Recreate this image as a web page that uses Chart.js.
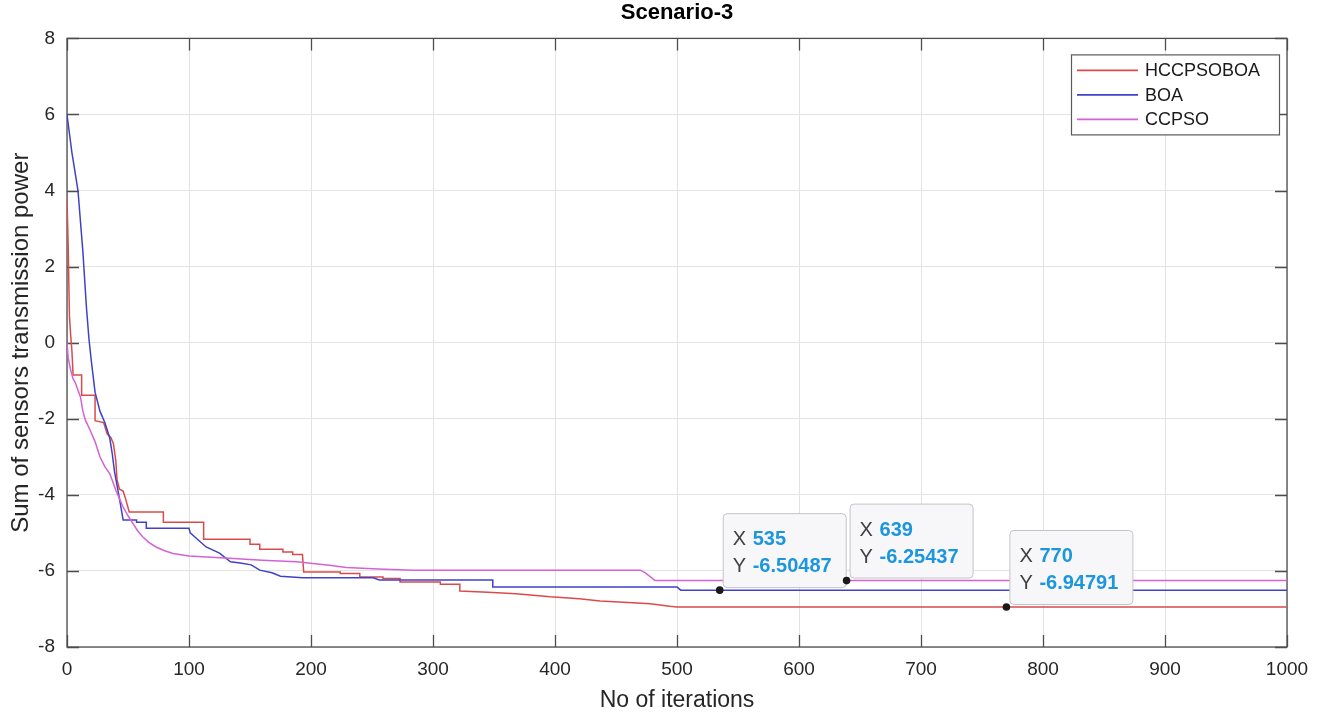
<!DOCTYPE html>
<html>
<head>
<meta charset="utf-8">
<script src="https://cdn.jsdelivr.net/npm/chart.js@4.4.0/dist/chart.umd.min.js"></script>
<style>
  body { margin: 0; background: #fff; }
</style>
</head>
<body>
<canvas id="myChart" width="1325" height="717"></canvas>
<script>
// Convergence curves as polyline vertices (iteration, best value); flat levels get both corner points
const hccIter = [0, 1, 2, 3, 4, 5, 12, 12, 23, 23, 30, 33, 36, 38, 40, 41, 43, 46, 48, 51, 79, 79, 112, 112, 150, 150, 158, 158, 177, 177, 185, 185, 193, 194, 224, 224, 240, 240, 259, 259, 273, 273, 306, 306, 322, 322, 345, 368, 396, 420, 437, 460, 478, 494, 500, 1000]
const hccPower = [3.8, 2.5, 0.7, 0.2, -0.2, -0.85, -0.85, -1.38, -1.38, -2.05, -2.1, -2.4, -2.5, -2.65, -3.1, -3.6, -3.85, -3.9, -4.1, -4.45, -4.45, -4.72, -4.72, -5.17, -5.17, -5.3, -5.3, -5.43, -5.43, -5.5, -5.5, -5.57, -5.57, -6.03, -6.03, -6.07, -6.07, -6.16, -6.16, -6.2, -6.2, -6.29, -6.29, -6.35, -6.35, -6.53, -6.56, -6.6, -6.68, -6.73, -6.79, -6.83, -6.86, -6.93, -6.94791, -6.94791]

const boaIter = [0, 2, 4, 6, 9, 11, 13, 16, 18, 20, 23, 27, 31, 35, 37, 39, 41, 43, 46, 57, 57, 65, 65, 100, 101, 106, 114, 125, 134, 142, 151, 158, 168, 175, 193, 251, 256, 349, 349, 500, 503, 1000]
const boaPower = [6.0, 5.5, 5.0, 4.6, 4.0, 3.2, 2.4, 0.9, 0.1, -0.5, -1.3, -1.8, -2.1, -2.5, -2.9, -3.4, -3.75, -4.1, -4.66, -4.66, -4.72, -4.72, -4.88, -4.88, -5.0, -5.14, -5.37, -5.53, -5.76, -5.79, -5.84, -5.98, -6.05, -6.14, -6.18, -6.18, -6.24, -6.24, -6.42, -6.42, -6.50487, -6.50487]

const ccpsoIter = [0, 1, 3, 5, 7, 9, 11, 13, 15, 19, 23, 27, 31, 35, 37, 40, 43, 46, 50, 54, 58, 62, 67, 73, 80, 87, 100, 122, 133, 160, 188, 215, 229, 255, 284, 470, 474, 478, 482, 1000]
const ccpsoPower = [0.0, -0.4, -0.72, -0.95, -1.06, -1.25, -1.42, -1.8, -2.03, -2.3, -2.6, -3.0, -3.26, -3.44, -3.61, -3.88, -4.1, -4.32, -4.55, -4.75, -4.95, -5.1, -5.25, -5.37, -5.47, -5.54, -5.61, -5.65, -5.67, -5.72, -5.76, -5.85, -5.91, -5.95, -5.98, -5.98, -6.05, -6.15, -6.25437, -6.25437]

const seriesNames = ['HCCPSOBOA', 'BOA', 'CCPSO']
const seriesColors = ['#d94b4b', '#4040c8', '#d462d4']

const xTicks = [0, 100, 200, 300, 400, 500, 600, 700, 800, 900, 1000]
const yTicks = [-8, -6, -4, -2, 0, 2, 4, 6, 8]

// data tips: which series and at which iteration
const tipSeries = [1, 2, 0]
const tipIters = [535, 639, 770]

const fontFamily = "'Liberation Sans', Arial, Helvetica, sans-serif"

function toPoints(xs, ys) {
    return xs.map(function (x, i) { return { x: x, y: ys[i] } })
}

// value of a series at a given iteration (tips sit on flat levels)
function valueAt(points, iter) {
    let v = points[0].y
    points.forEach(function (p) { if (p.x <= iter) v = p.y })
    return v
}

// box round the axes with inward tick marks on all four sides
const axesBox = {
    id: 'axesBox',
    beforeDatasetsDraw(chart) {
        const { ctx, chartArea: a, scales } = chart
        const len = 12
        ctx.save()
        ctx.strokeStyle = '#4d4d4d'
        ctx.lineWidth = 1.3
        ctx.beginPath()
        xTicks.forEach(function (t) {
            const px = Math.round(scales.x.getPixelForValue(t)) + 0.5
            ctx.moveTo(px, a.bottom); ctx.lineTo(px, a.bottom - len)
            ctx.moveTo(px, a.top); ctx.lineTo(px, a.top + len)
        })
        yTicks.forEach(function (t) {
            const py = Math.round(scales.y.getPixelForValue(t)) + 0.5
            ctx.moveTo(a.left, py); ctx.lineTo(a.left + len, py)
            ctx.moveTo(a.right, py); ctx.lineTo(a.right - len, py)
        })
        ctx.stroke()
        ctx.strokeRect(a.left, a.top, a.right - a.left, a.bottom - a.top)
        ctx.restore()
    }
}

// legend box in the upper right corner of the plot
const boxLegend = {
    id: 'boxLegend',
    afterDatasetsDraw(chart) {
        const { ctx, chartArea: a } = chart
        const w = 208, h = 80
        const left = a.right - w - 8
        const top = a.top + 16
        ctx.save()
        ctx.fillStyle = '#fff'
        ctx.fillRect(left, top, w, h)
        ctx.strokeStyle = '#5a5a5a'
        ctx.lineWidth = 1.2
        ctx.strokeRect(left + 0.5, top + 0.5, w, h)
        ctx.font = '18px ' + fontFamily
        ctx.textBaseline = 'middle'
        seriesNames.forEach(function (name, i) {
            const yy = top + 16 + i * 24.5
            ctx.strokeStyle = seriesColors[i]
            ctx.lineWidth = 1.6
            ctx.beginPath()
            ctx.moveTo(left + 6, yy)
            ctx.lineTo(left + 67, yy)
            ctx.stroke()
            ctx.fillStyle = '#1a1a1a'
            ctx.fillText(name, left + 74, yy + 1)
        })
        ctx.restore()
    }
}

// MATLAB-style data tips
const dataTips = {
    id: 'dataTips',
    afterDatasetsDraw(chart) {
        const { ctx, scales } = chart
        ctx.save()
        tipSeries.forEach(function (s, i) {
            const pts = chart.data.datasets[s].data
            const iter = tipIters[i]
            const val = valueAt(pts, iter)
            const px = scales.x.getPixelForValue(iter)
            const py = scales.y.getPixelForValue(val)

            const bw = 123, bh = 74
            const bx = px + 3, by = py - 3 - bh
            ctx.fillStyle = '#f7f7f9'
            ctx.strokeStyle = '#c4c4c8'
            ctx.lineWidth = 1
            ctx.beginPath()
            ctx.roundRect(bx + 0.5, by + 0.5, bw, bh, 4)
            ctx.fill()
            ctx.stroke()

            ctx.textBaseline = 'alphabetic'
            ctx.font = '20px ' + fontFamily
            ctx.fillStyle = '#404040'
            ctx.fillText('X', bx + 10, by + 32)
            ctx.fillText('Y', bx + 10, by + 59)
            ctx.font = 'bold 20px ' + fontFamily
            ctx.fillStyle = '#1c96dc'
            ctx.fillText(String(iter), bx + 30, by + 32)
            ctx.fillText(String(val), bx + 30, by + 59)

            ctx.fillStyle = '#1a1a1a'
            ctx.beginPath()
            ctx.arc(px, py, 3.8, 0, Math.PI * 2)
            ctx.fill()
        })
        ctx.restore()
    }
}

const myChart = document.getElementById('myChart')

const chart = new Chart(myChart, {
    type: 'line',
    data: {
        datasets: [
            {
                label: seriesNames[0],
                data: toPoints(hccIter, hccPower),
                borderColor: seriesColors[0],
                order: 3
            },
            {
                label: seriesNames[1],
                data: toPoints(boaIter, boaPower),
                borderColor: seriesColors[1],
                order: 2
            },
            {
                label: seriesNames[2],
                data: toPoints(ccpsoIter, ccpsoPower),
                borderColor: seriesColors[2],
                order: 1
            }
        ]
    },
    options: {
        responsive: false,
        animation: false,
        events: [],
        parsing: false,
        elements: {
            line: { borderWidth: 1.5, fill: false, tension: 0 },
            point: { radius: 0 }
        },
        layout: { padding: { left: 0, right: 38, top: 0, bottom: 0 } },
        plugins: {
            legend: { display: false },
            tooltip: { enabled: false },
            title: {
                display: true,
                fullSize: false,
                text: 'Scenario-3',
                color: '#000',
                font: { family: fontFamily, size: 22, weight: 'bold' },
                padding: { top: 0, bottom: 12 }
            }
        },
        scales: {
            x: {
                type: 'linear',
                min: 0,
                max: 1000,
                afterFit(scale) { scale.height = 70 },
                afterBuildTicks(scale) { scale.ticks = xTicks.map(function (v) { return { value: v } }) },
                grid: { color: '#e3e3e3', lineWidth: 1, drawTicks: false },
                border: { display: false },
                ticks: {
                    color: '#262626',
                    padding: 11,
                    maxRotation: 0,
                    font: { family: fontFamily, size: 19 },
                    callback: function (v) { return String(v) }
                },
                title: {
                    display: true,
                    text: 'No of iterations',
                    color: '#262626',
                    font: { family: fontFamily, size: 23 },
                    padding: { top: 0, bottom: 3 }
                }
            },
            y: {
                min: -8,
                max: 8,
                afterFit(scale) { scale.width = 67 },
                afterBuildTicks(scale) { scale.ticks = yTicks.map(function (v) { return { value: v } }) },
                grid: { color: '#e3e3e3', lineWidth: 1, drawTicks: false },
                border: { display: false },
                ticks: {
                    color: '#262626',
                    padding: 12,
                    font: { family: fontFamily, size: 19 },
                    callback: function (v) { return String(v) }
                },
                title: {
                    display: true,
                    text: 'Sum of sensors transmission power',
                    color: '#262626',
                    font: { family: fontFamily, size: 24 },
                    padding: { top: 7, bottom: 0 }
                }
            }
        }
    },
    plugins: [axesBox, boxLegend, dataTips]
})
</script>
</body>
</html>
